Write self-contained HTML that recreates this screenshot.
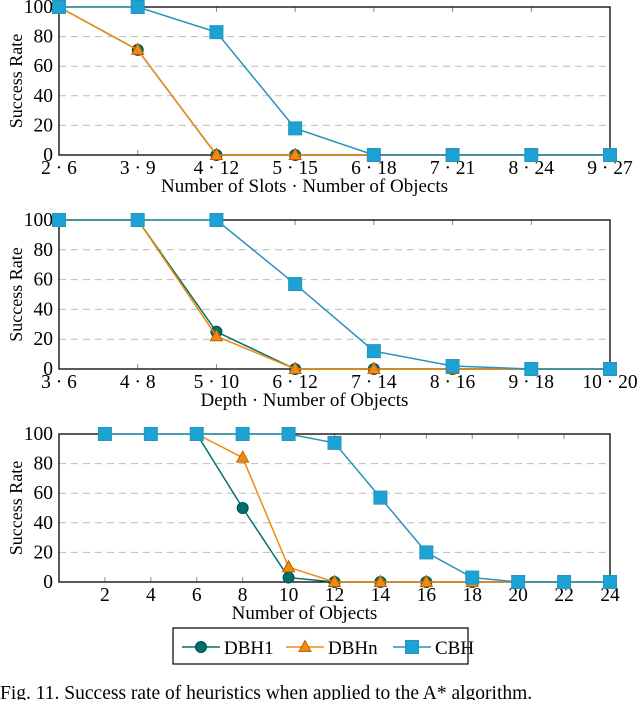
<!DOCTYPE html>
<html><head><meta charset="utf-8"><style>
body{margin:0;background:#fff;width:640px;height:700px;overflow:hidden}
svg{font-family:"Liberation Serif",serif}
</style></head><body>
<svg id="s" width="640" height="700"></svg>
<script>
const c1Cats=["2 · 6","3 · 9","4 · 12","5 · 15","6 · 18","7 · 21","8 · 24","9 · 27"];
const c1Dbh1=[100,71,0,0,0,0,0,0];
const c1Dbhn=[100,71,0,0,0,0,0,0];
const c1Cbh=[100,100,83,18,0,0,0,0];
const c2Cats=["3 · 6","4 · 8","5 · 10","6 · 12","7 · 14","8 · 16","9 · 18","10 · 20"];
const c2Dbh1=[100,100,25,0,0,0,0,0];
const c2Dbhn=[100,100,22,0,0,0,0,0];
const c2Cbh=[100,100,100,57,12,2,0,0];
const c3Ticks=[2,4,6,8,10,12,14,16,18,20,22,24];
const c3DbhX=[6,8,10,12,14,16,18,20,22,24];
const c3Dbh1=[100,50,3,0,0,0,0,0,0,0];
const c3Dbhn=[100,84,10,0,0,0,0,0,0,0];
const c3CbhX=[2,4,6,8,10,12,14,16,18,20,22,24];
const c3Cbh=[100,100,100,100,100,94,57,20,3,0,0,0];
const yTicks=[0,20,40,60,80,100];
const NS="http://www.w3.org/2000/svg";
const S=document.getElementById('s');
const C1="#00706b",C2="#f28a10",C3="#2a93b8",C3F="#1aa3d4";
function el(t,a,p){const e=document.createElementNS(NS,t);for(const k in a)e.setAttribute(k,a[k]);(p||S).appendChild(e);return e;}
function txt(x,y,s,anchor,size,p){const e=el('text',{x:x,y:y,'text-anchor':anchor||'middle','font-size':size||17,fill:'#000'},p);e.textContent=s;return e;}
function chart(name,top,bot,xmin,xmax,ticks,labels,xtitle,series){
  const L=59,R=610;
  const g=el('g',{});
  
  
  const sx=v=>L+(v-xmin)/(xmax-xmin)*(R-L);
  const sy=v=>bot-v/100*(bot-top);
  yTicks.forEach(v=>{
    if(v>0&&v<100){const l=el('line',{x1:L,x2:R,y1:sy(v),y2:sy(v),stroke:'#bbb','stroke-dasharray':'7 5','stroke-width':1},g);
    }
    const t=txt(L-6,sy(v)+6,String(v),'end',19.5,g);
    
  });
  ticks.forEach((v,i)=>{
    el('line',{x1:sx(v),x2:sx(v),y1:top,y2:top+5,stroke:'#888'},g);
    el('line',{x1:sx(v),x2:sx(v),y1:bot,y2:bot-5,stroke:'#888'},g);
    const t=txt(sx(v),bot+19,labels[i],'middle',19.5,g);
    
  });
  const fr=el('rect',{x:L,y:top,width:R-L,height:bot-top,fill:'none',stroke:'#000','stroke-width':1.3},g);
  
  const xt=txt((L+R)/2-30,bot+37,xtitle,'middle',19,g);
  
  const yt=txt(0,0,'Success Rate','middle',18,g);
  yt.setAttribute('transform','translate(22,'+((top+bot)/2)+') rotate(-90)');
  
  series.forEach(s=>{
    const pts=s.x.map((xv,i)=>sx(xv)+','+sy(s.y[i])).join(' ');
    const pl=el('polyline',{points:pts,fill:'none',stroke:s.color,'stroke-width':1.5},g);
    
    s.x.forEach((xv,i)=>{const m=marker(s.kind,sx(xv),sy(s.y[i]),g);
      });
  });
}
function marker(k,x,y,p){
  if(k==='c')return el('circle',{cx:x,cy:y,r:5.5,fill:C1,stroke:'#004f4c'},p);
  if(k==='t')return el('polygon',{points:`${x},${y-6.5} ${x-6},${y+4.5} ${x+6},${y+4.5}`,fill:C2,stroke:'#c06000'},p);
  return el('rect',{x:x-6.5,y:y-6.5,width:13,height:13,fill:C3F,stroke:C3},p);
}
const idx=c1Cats.map((_,i)=>i);
chart('chart-slots',7,155,0,7,idx,c1Cats,'Number of Slots · Number of Objects',[
 {name:'dbh1',kind:'c',color:C1,x:idx,y:c1Dbh1},
 {name:'dbhn',kind:'t',color:C2,x:idx,y:c1Dbhn},
 {name:'cbh',kind:'s',color:C3,x:idx,y:c1Cbh}]);
chart('chart-depth',220,369,0,7,idx,c2Cats,'Depth · Number of Objects',[
 {name:'dbh1',kind:'c',color:C1,x:idx,y:c2Dbh1},
 {name:'dbhn',kind:'t',color:C2,x:idx,y:c2Dbhn},
 {name:'cbh',kind:'s',color:C3,x:idx,y:c2Cbh}]);
chart('chart-objects',434,582,0,24,c3Ticks,c3Ticks.map(String),'Number of Objects',[
 {name:'dbh1',kind:'c',color:C1,x:c3DbhX,y:c3Dbh1},
 {name:'dbhn',kind:'t',color:C2,x:c3DbhX,y:c3Dbhn},
 {name:'cbh',kind:'s',color:C3,x:c3CbhX,y:c3Cbh}]);
const lg=el('g',{});


el('rect',{x:173,y:628,width:295,height:36,fill:'#fff',stroke:'#000','stroke-width':1.2},lg);
[['DBH1','c',C1,182],['DBHn','t',C2,286],['CBH','s',C3,393]].forEach(e=>{
  const g=el('g',{},lg);
  
  
  el('line',{x1:e[3],x2:e[3]+38,y1:647,y2:647,stroke:e[2],'stroke-width':1.5},g);
  marker(e[1],e[3]+19,647,g);
  txt(e[3]+42,654,e[0],'start',19,g);
});
const cap=txt(0,699,'Fig. 11.   Success rate of heuristics when applied to the A* algorithm.','start',19.5);

</script>
</body></html>
